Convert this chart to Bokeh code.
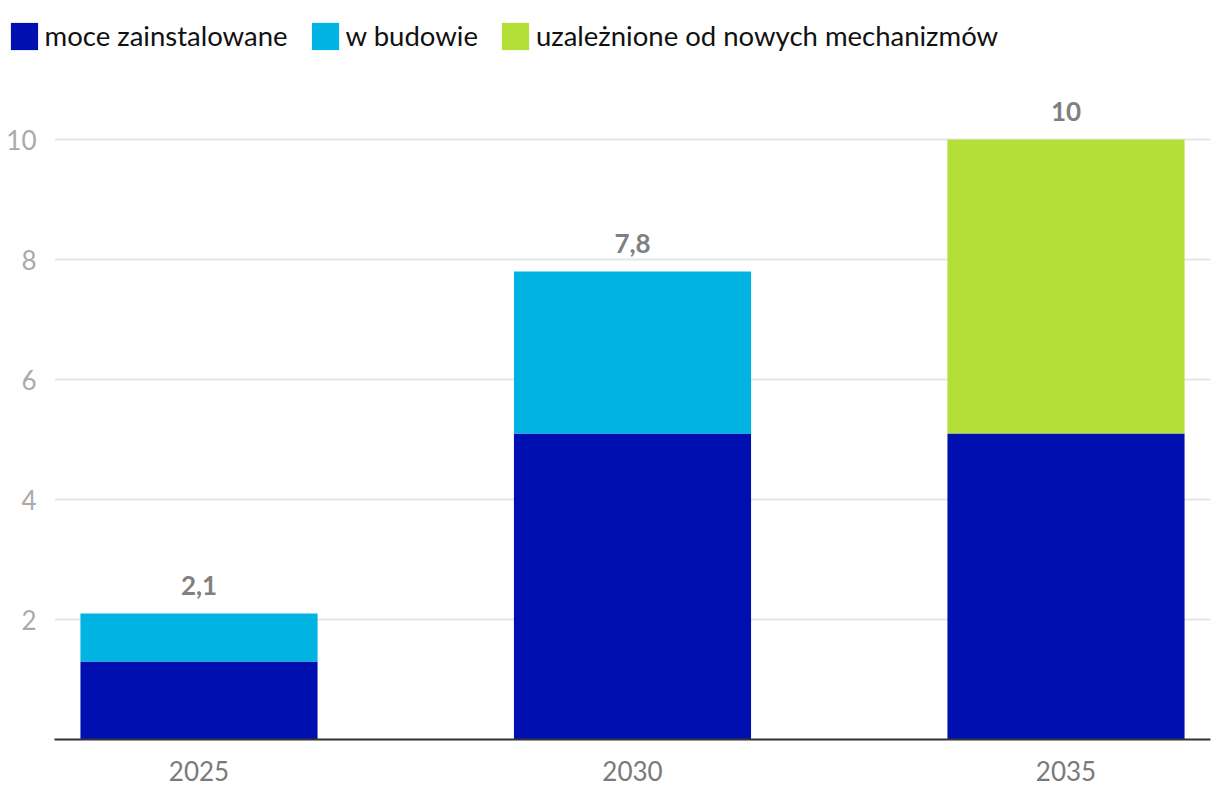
from bokeh.plotting import figure
from bokeh.models import ColumnDataSource, Range1d, FixedTicker
from bokeh.layouts import column
from bokeh.core.properties import value
from bokeh.embed import file_html
from bokeh.resources import INLINE

years = ["2025", "2030", "2035"]
installed = [1.3, 5.1, 5.1]
building = [0.8, 2.7, 0.0]
dependent = [0.0, 0.0, 4.9]
series_labels = ["moce zainstalowane", "w budowie", "uzależnione od nowych mechanizmów"]
colors = ["#0010B0", "#00B3E3", "#B3DF38"]
y_ticks = [2, 4, 6, 8, 10]

xs = list(range(len(years)))
totals = [a + b + c for a, b, c in zip(installed, building, dependent)]
total_text = [f"{t:g}".replace(".", ",") for t in totals]

source = ColumnDataSource(dict(x=xs, installed=installed, building=building,
                               dependent=dependent, total=totals, total_text=total_text))

FONT = "Lato"
LEG_H = 75
MAIN_H = 720
FRAME_H = 664  # frame bottom at page y 739

# ---- legend strip (its zero-width bars lie outside its visible range; only the legend shows) ----
pl = figure(width=1220, height=LEG_H, output_backend="svg", toolbar_location=None,
            x_axis_type=None, y_axis_type=None, x_range=Range1d(-1/3, 7/3),
            y_range=Range1d(1000, 1001),
            min_border_left=0, min_border_right=0, min_border_top=0, min_border_bottom=0)
pl.frame_align = False
pl.outline_line_color = None
pl.xgrid.visible = False
pl.ygrid.visible = False
pl.vbar_stack(["installed", "building", "dependent"], x="x", width=0, color=colors,
              line_color=None, source=source, legend_label=series_labels)
leg = pl.legend[0]
leg.orientation = "horizontal"
leg.location = (6.6, LEG_H - 52.5)
leg.padding = 0
leg.margin = 0
leg.spacing = 20
leg.glyph_width = 34
leg.glyph_height = 34
leg.label_height = 34
leg.label_standoff = 4
leg.label_text_font = FONT
leg.label_text_font_size = "27.5px"
leg.label_text_color = "#111111"
leg.label_text_baseline = "middle"
leg.border_line_color = None
leg.background_fill_alpha = 0

# ---- main chart ----
p = figure(width=1220, height=MAIN_H, output_backend="svg", toolbar_location=None,
           x_range=Range1d(-1/3, 7/3), y_range=Range1d(0, FRAME_H / 60),
           min_border_left=54, min_border_right=10, min_border_top=0,
           min_border_bottom=MAIN_H - FRAME_H)
p.frame_align = False
p.outline_line_color = None

p.vbar_stack(["installed", "building", "dependent"], x="x", width=0.547, color=colors,
             line_color=None, source=source)

p.text(x="x", y="total", text="total_text", source=source, text_align="center",
       text_baseline="middle", y_offset=-28, text_font=value(FONT), text_font_size="26px",
       text_font_style="bold", text_color="#808080")

p.xaxis.ticker = FixedTicker(ticks=xs)
p.xaxis.major_label_overrides = {i: y for i, y in enumerate(years)}
p.xaxis.axis_line_color = "#333333"
p.xaxis.axis_line_width = 2
p.xaxis.major_tick_line_color = None
p.xaxis.minor_tick_line_color = None
p.xaxis.major_label_text_font = FONT
p.xaxis.major_label_text_font_size = "26px"
p.xaxis.major_label_text_color = "#7a7a7a"
p.xaxis.major_label_standoff = 15

p.yaxis.ticker = FixedTicker(ticks=y_ticks)
p.yaxis.axis_line_color = None
p.yaxis.major_tick_line_color = None
p.yaxis.minor_tick_line_color = None
p.yaxis.major_label_text_font = FONT
p.yaxis.major_label_text_font_size = "26px"
p.yaxis.major_label_text_color = "#aaaaaa"
p.yaxis.major_label_standoff = 12

p.xgrid.grid_line_color = None
p.ygrid.ticker = FixedTicker(ticks=y_ticks)
p.ygrid.grid_line_color = "#e6e6e6"
p.ygrid.grid_line_width = 2

layout = column(pl, p, spacing=0)
open("out.html", "w").write(file_html(layout, INLINE))
